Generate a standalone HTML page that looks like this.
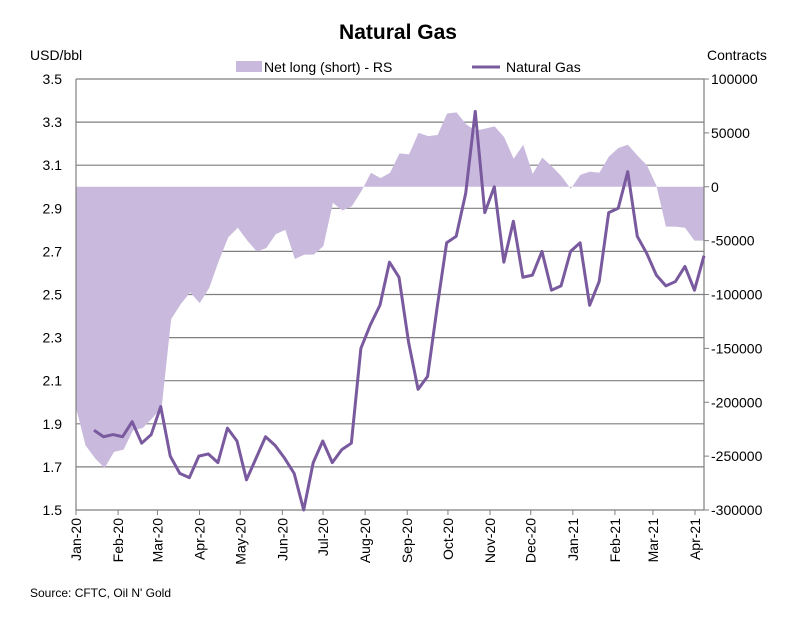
<!DOCTYPE html>
<html><head><meta charset="utf-8"><style>
body{margin:0;background:#fff;}
svg text{font-family:"Liberation Sans",sans-serif;fill:#000;}
</style></head><body>
<svg id="chart" width="787" height="612" viewBox="0 0 787 612" xmlns="http://www.w3.org/2000/svg">
<text x="398" y="39" text-anchor="middle" font-size="21" font-weight="bold">Natural Gas</text>
<text x="30" y="60" font-size="14">USD/bbl</text>
<text x="707" y="60" font-size="14">Contracts</text>
<g>
<rect x="236" y="61" width="26" height="11" fill="#c9badd"/>
<text x="264" y="72" font-size="14">Net long (short) - RS</text>
<line x1="472" y1="67" x2="500" y2="67" stroke="#7a5a9e" stroke-width="3"/>
<text x="506" y="72" font-size="14">Natural Gas</text>
</g>
<g id="grid"></g>
<path id="area" fill="#c9badd" stroke="none"/>
<g id="axes"></g>
<path id="line" fill="none" stroke="#7a5a9e" stroke-width="3" stroke-linejoin="round"/>
<text x="30" y="597" font-size="12">Source: CFTC, Oil N' Gold</text>
</svg>
<script>
const leftTicks=[1.5,1.7,1.9,2.1,2.3,2.5,2.7,2.9,3.1,3.3,3.5];
const rightTicks=[-300000,-250000,-200000,-150000,-100000,-50000,0,50000,100000];
const monthLabels=["Jan-20","Feb-20","Mar-20","Apr-20","May-20","Jun-20","Jul-20","Aug-20","Sep-20","Oct-20","Nov-20","Dec-20","Jan-21","Feb-21","Mar-21","Apr-21"];
const monthDays=[0,31,60,91,121,152,182,213,244,274,305,335,366,397,425,456];
const priceValues=[1.87,1.84,1.85,1.84,1.91,1.81,1.85,1.98,1.75,1.67,1.65,1.75,1.76,1.72,1.88,1.82,1.64,1.74,1.84,1.80,1.74,1.67,1.50,1.72,1.82,1.72,1.78,1.81,2.25,2.36,2.45,2.65,2.58,2.28,2.06,2.12,2.44,2.74,2.77,2.97,3.35,2.88,3.00,2.65,2.84,2.58,2.59,2.70,2.52,2.54,2.70,2.74,2.45,2.56,2.88,2.90,3.07,2.77,2.69,2.59,2.54,2.56,2.63,2.52,2.68];
const netLongValues=[-205000,-240000,-252000,-261000,-246000,-244000,-226000,-224000,-215000,-205000,-123000,-109000,-98000,-108000,-94000,-69000,-47000,-38000,-50000,-60000,-57000,-44000,-40000,-67000,-63000,-63000,-55000,-15000,-22000,-18000,-4000,13000,8000,13000,31000,30000,50000,47000,48000,68000,69000,58000,52000,54000,56000,46000,26000,39000,12000,27000,19000,10000,-2000,11000,14000,13000,28000,36000,39000,29000,20000,1000,-37000,-37000,-38000,-50000,-50000];
const X0=76,X1=704,Y0=79,Y1=510;
const NS="http://www.w3.org/2000/svg";
function yL(v){return Y1-(v-1.5)/(3.5-1.5)*(Y1-Y0);}
function yR(v){return Y1-(v+300000)/400000*(Y1-Y0);}
function xDay(d){return X0+(d/456)*(695-X0);}
function xArea(i){return X0+i*(X1-X0)/(netLongValues.length-1);}
function xLine(i){return 94+i*(X1-94)/(priceValues.length-1);}
function mk(tag,attrs,parent){const e=document.createElementNS(NS,tag);for(const k in attrs)e.setAttribute(k,attrs[k]);parent.appendChild(e);return e;}
const grid=document.getElementById('grid'),axes=document.getElementById('axes');
leftTicks.forEach(t=>{
  const g=mk('line',{x1:X0,x2:X1,y1:yL(t),y2:yL(t),stroke:'#7f7f7f','stroke-width':1.2},grid);
  
  
  const tx=mk('text',{x:62,y:yL(t)+5,'text-anchor':'end','font-size':14},axes);
  tx.textContent=t.toFixed(1);
  
  
});
rightTicks.forEach(t=>{
  const l=mk('line',{x1:X1,x2:X1+5,y1:yR(t),y2:yR(t),stroke:'#7f7f7f'},axes);
  
  
  const tx=mk('text',{x:X1+7,y:yR(t)+5,'font-size':14},axes);
  tx.textContent=String(t);
  
  
});
let ax=mk('line',{x1:X0,x2:X0,y1:Y0,y2:Y1,stroke:'#7f7f7f','stroke-width':1.2},axes);


ax=mk('line',{x1:X1,x2:X1,y1:Y0,y2:Y1,stroke:'#7f7f7f','stroke-width':1.2},axes);


monthLabels.forEach((m,i)=>{
  const x=xDay(monthDays[i]);
  const tk=mk('line',{x1:x,x2:x,y1:Y1,y2:Y1+5,stroke:'#7f7f7f'},axes);
  
  
  const tx=mk('text',{x:0,y:0,'text-anchor':'end','font-size':14,transform:`translate(${x+5},${Y1+8}) rotate(-90)`},axes);
  tx.textContent=m;
  
  
});
let d=`M${xArea(0)},${yR(0)}`;
netLongValues.forEach((v,i)=>{d+=` L${xArea(i)},${yR(v)}`;});
d+=` L${xArea(netLongValues.length-1)},${yR(0)} Z`;
document.getElementById('area').setAttribute('d',d);
document.getElementById('line').setAttribute('d',priceValues.map((v,i)=>(i?'L':'M')+xLine(i)+','+yL(v)).join(' '));
</script>
</body></html>
